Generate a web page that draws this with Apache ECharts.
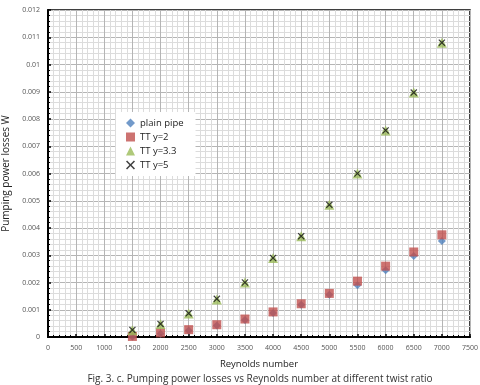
<!DOCTYPE html>
<html>
<head>
<meta charset="utf-8">
<script src="https://cdn.jsdelivr.net/npm/echarts@6/dist/echarts.min.js"></script>
<style>
  html, body { margin: 0; padding: 0; background: #fff; }
  #chart { width: 480px; height: 385px; }
</style>
</head>
<body>
<div id="chart"></div>
<script>
// Reynolds numbers (x values)
var reynolds = [1500, 2000, 2500, 3000, 3500, 4000, 4500, 5000, 5500, 6000, 6500, 7000];

// Pumping power losses (W)
var plainPipe = [0.00001, 0.00012, 0.00024, 0.00042, 0.00062, 0.00088, 0.00118, 0.00155, 0.0019, 0.00245, 0.00297, 0.00352];
var ttY2 = [0.00002, 0.00015, 0.00027, 0.00045, 0.00066, 0.00092, 0.00122, 0.0016, 0.00205, 0.0026, 0.00312, 0.00375];
var ttY33 = [0.00025, 0.00048, 0.00086, 0.00138, 0.002, 0.0029, 0.0037, 0.00485, 0.006, 0.00758, 0.00897, 0.0108];
var ttY5 = [0.00026, 0.00048, 0.00087, 0.0014, 0.002, 0.0029, 0.0037, 0.00485, 0.006, 0.00758, 0.00897, 0.0108];

var xTicks = { min: 0, max: 7500, step: 500 };
var yTicks = { min: 0, max: 0.012, step: 0.001 };

function pares(valores) {
  return reynolds.map(function (r, i) { return [r, valores[i]]; });
}

// cruz rellena para la serie TT y=5
var simboloX = 'path://M0,1.2L1.2,0L5,3.8L8.8,0L10,1.2L6.2,5L10,8.8L8.8,10L5,6.2L1.2,10L0,8.8L3.8,5Z';

var chart = echarts.init(document.getElementById('chart'));

var option = {
  animation: false,
  title: {
    text: 'Fig. 3. c. Pumping power losses vs Reynolds number at different twist ratio',
    left: 255,
    textAlign: 'center',
    top: 369,
    textStyle: { fontSize: 10, fontWeight: 'normal', color: '#333', fontFamily: 'Open Sans' }
  },
  legend: {
    orient: 'vertical',
    left: 116,
    top: 112,
    backgroundColor: '#fff',
    padding: [6, 12, 6, 10],
    itemGap: 4,
    itemWidth: 9,
    itemHeight: 9,
    textStyle: { fontSize: 9.5, color: '#222', fontFamily: 'Open Sans' },
    data: ['plain pipe', 'TT y=2', 'TT y=3.3', 'TT y=5']
  },
  grid: {
    left: 48, right: 10, top: 10, bottom: 48,
    outerBoundsMode: 'none',
    containLabel: false,
    show: true,
    borderColor: '#000',
    borderWidth: 1.5
  },
  xAxis: {
    type: 'value',
    min: xTicks.min, max: xTicks.max, interval: xTicks.step,
    name: 'Reynolds number',
    nameLocation: 'middle',
    nameGap: 22,
    nameTextStyle: { fontSize: 9.5, color: '#222', fontFamily: 'Open Sans' },
    axisLine: { lineStyle: { color: '#000', width: 2 } },
    axisTick: { show: true, length: 3, inside: true, lineStyle: { color: '#000', width: 1.5 } },
    minorTick: { show: true, splitNumber: 5, length: 2, lineStyle: { color: '#000' } },
    axisLabel: {
      fontSize: 7, color: '#555', margin: 7, fontFamily: 'Open Sans',
      formatter: function (v) { return String(v); }
    },
    splitLine: { lineStyle: { color: '#b5b5b5', width: 1 } },
    minorSplitLine: { show: true, lineStyle: { color: '#dcdcdc', width: 1 } }
  },
  yAxis: {
    type: 'value',
    min: yTicks.min, max: yTicks.max, interval: yTicks.step,
    name: 'Pumping power losses W',
    nameLocation: 'middle',
    nameGap: 30,
    nameTextStyle: { fontSize: 10, color: '#222', fontFamily: 'Open Sans' },
    axisLine: { show: true, lineStyle: { color: '#000', width: 2 } },
    axisTick: { show: true, length: 3, inside: true, lineStyle: { color: '#000', width: 1.5 } },
    minorTick: { show: true, splitNumber: 5, length: 2, lineStyle: { color: '#000' } },
    axisLabel: {
      fontSize: 7, color: '#555', margin: 8, fontFamily: 'Open Sans',
      formatter: function (v) { return v === 0 ? '0' : String(+v.toFixed(3)); }
    },
    splitLine: { lineStyle: { color: '#b5b5b5', width: 1 } },
    minorSplitLine: { show: true, lineStyle: { color: '#dcdcdc', width: 1 } }
  },
  series: [
    {
      name: 'plain pipe', type: 'scatter', symbol: 'diamond', symbolSize: 8,
      itemStyle: { color: '#4f81bd' }, data: pares(plainPipe)
    },
    {
      name: 'TT y=2', type: 'scatter', symbol: 'rect', symbolSize: 9,
      itemStyle: { color: '#c0504d' }, data: pares(ttY2)
    },
    {
      name: 'TT y=3.3', type: 'scatter', symbol: 'triangle', symbolSize: 10,
      itemStyle: { color: '#9bbb59' }, data: pares(ttY33)
    },
    {
      name: 'TT y=5', type: 'scatter', symbol: simboloX, symbolSize: 7,
      itemStyle: { color: '#111' }, data: pares(ttY5)
    }
  ]
};

chart.setOption(option);
</script>
</body>
</html>
